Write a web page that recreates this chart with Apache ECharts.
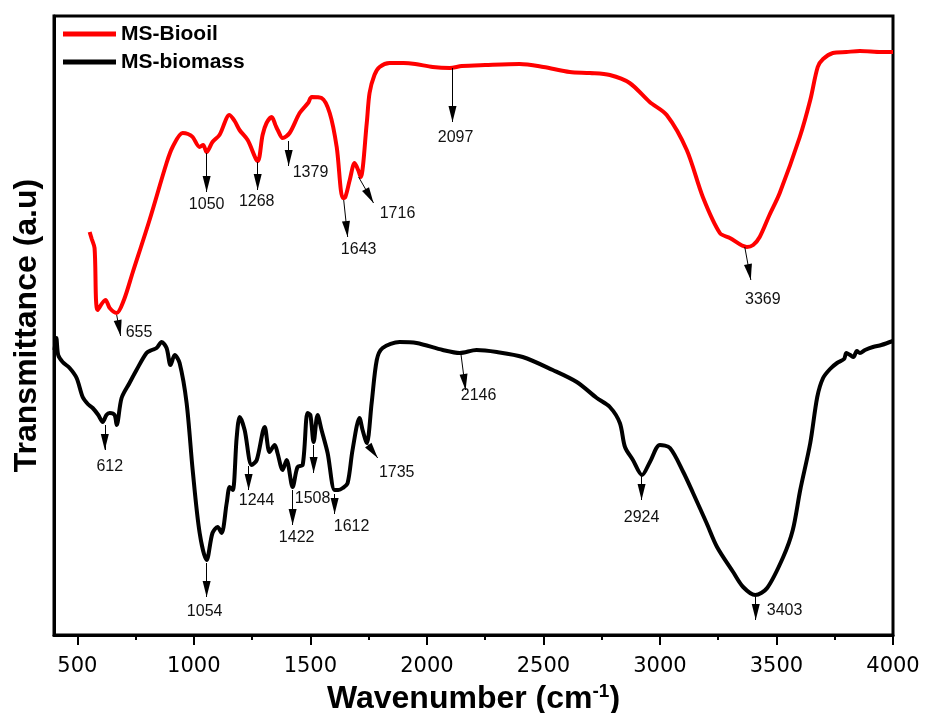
<!DOCTYPE html>
<html><head><meta charset="utf-8">
<script src="https://cdn.jsdelivr.net/npm/echarts@6/dist/echarts.min.js"></script>
<style>html,body{margin:0;padding:0;background:#fff}#c{width:925px;height:713px}</style>
</head><body><div id="c"></div>
<script>
// ---- data (wavenumber cm-1, transmittance a.u.) ----
const bioOilWavenumber = [553,562,574,587,621,639,669,700,737,810,883,909,952,975,995,1025,1040,1055,1080,1110,1153,1175,1196,1231,1274,1295,1312,1334,1350,1360,1381,1411,1454,1490,1506,1548,1583,1613,1639,1650,1669,1690,1705,1716,1742,1754,1775,1797,1840,1900,1950,2025,2098,2150,2250,2398,2500,2613,2700,2785,2870,2956,3029,3115,3184,3257,3300,3373,3400,3428,3470,3514,3600,3645,3677,3700,3742,3800,3858,3950,4000];
const bioOilTransmittance = [403,396,387,325,335,327,322,335,362,415,472,488,502,501,498,488,490,483,493,500,520,514,505,495,474,500,512,518,510,505,497,502,522,532,538,537,522,488,437,438,455,472,465,458,512,542,560,568,572,572,571,568,567,569,570,571,568,563,562,560,552,533,520,485,438,402,397,388,390,398,420,442,498,535,568,576,582,583,584,583,583];

const biomassWavenumber = [402,410,418,437,467,497,523,545,566,590,609,625,639,660,669,690,724,754,797,820,840,862,883,900,918,939,969,995,1025,1055,1080,1102,1119,1141,1154,1167,1184,1197,1218,1248,1270,1304,1325,1347,1359,1381,1398,1424,1445,1467,1488,1500,1514,1531,1548,1574,1604,1620,1639,1660,1681,1711,1724,1742,1763,1785,1810,1883,1956,2068,2141,2213,2300,2411,2540,2643,2729,2785,2828,2850,2884,2923,2957,3000,3043,3100,3142,3200,3245,3314,3357,3409,3460,3529,3570,3602,3645,3675,3700,3730,3760,3790,3800,3816,3830,3845,3858,3880,3914,3950,4000];
const biomassTransmittance = [285,297,280,273,267,257,238,231,227,220,213,220,222,220,210,237,252,265,282,285,287,293,287,270,280,272,232,165,102,75,102,108,102,132,148,145,198,218,205,170,175,208,183,190,182,165,175,148,168,170,222,220,193,220,205,182,145,145,147,152,185,217,205,192,232,275,287,293,292,285,282,285,283,278,265,253,237,228,212,188,175,160,173,190,187,163,142,112,88,63,48,40,47,78,105,145,192,238,257,266,272,276,282,280,278,284,282,285,288,290,294];

// peak annotations: [label, arrow start wn, start T, arrow tip wn, tip T]
const bioOilPeaks = [
  ['655', 669, 320, 686, 299],
  ['1050', 1055, 482, 1055, 443],
  ['1268', 1274, 473, 1274, 445],
  ['1379', 1407, 494, 1407, 469],
  ['1643', 1643, 435, 1660, 398],
  ['1716', 1707, 458, 1771, 432],
  ['2097', 2110, 567, 2110, 513],
  ['3369', 3364, 388, 3390, 355]
];
const biomassPeaks = [
  ['612', 618, 210, 618, 185],
  ['1054', 1055, 72, 1055, 38],
  ['1244', 1235, 169, 1235, 145],
  ['1422', 1424, 145, 1424, 110],
  ['1508', 1514, 190, 1514, 162],
  ['1612', 1604, 141, 1604, 121],
  ['1735', 1742, 192, 1789, 177],
  ['2146', 2145, 283, 2166, 245],
  ['2924', 2921, 160, 2921, 135],
  ['3403', 3411, 38, 3411, 15]
];
const majorTicks = [500,1000,1500,2000,2500,3000,3500,4000];
const minorTicks = [750,1250,1750,2250,2750,3250,3750];
const seriesNames = ['MS-Biooil','MS-biomass'];

// ---- label placement (style, pixel offsets from arrow tip) ----
const bioOilLabelPos = [[5,-3,'left'],[0,13,'center'],[-1,12,'center'],[4,7,'left'],[11,13,'center'],[24,11,'center'],[3,16,'center'],[12,20,'center']];
const biomassLabelPos = [[5,17,'center'],[-2,15,'center'],[8,11,'center'],[4,13,'center'],[-1,26,'center'],[17,13,'center'],[19,15,'center'],[13,6,'center'],[0,18,'center'],[11,-9,'left']];

function zip(a,b){return a.map((v,i)=>[v,b[i]]);}
function arrows(peaks){
  return {
    silent:true, animation:false,
    symbol:['none','triangle'], symbolSize:[8,16], symbolOffset:[[0,0],[0,8]],
    lineStyle:{color:'#000',width:1,type:'solid'},
    itemStyle:{color:'#000'},
    label:{show:false},
    emphasis:{disabled:true},
    data: peaks.map(p=>[{coord:[p[1],p[2]]},{coord:[p[3],p[4]]}])
  };
}
function labels(peaks,pos){
  return {
    silent:true, animation:false,
    symbol:'circle', symbolSize:0,
    data: peaks.map((p,i)=>({
      coord:[p[3],p[4]],
      label:{show:true, formatter:p[0], position:[pos[i][0],pos[i][1]], align:pos[i][2], verticalAlign:'middle',
             color:'#111', fontSize:16, fontFamily:'Liberation Sans, Arial, sans-serif'}
    }))
  };
}

const chart = echarts.init(document.getElementById('c'), null, {renderer:'canvas'});
chart.setOption({
  animation:false,
  backgroundColor:'#fff',
  legend:{
    data:seriesNames, orient:'vertical', left:63, top:23, padding:0, itemWidth:53, itemHeight:5, itemGap:6,
    icon:'rect',
    textStyle:{fontSize:21, fontWeight:'bold', fontFamily:'Liberation Sans, Arial, sans-serif', color:'#000', lineHeight:22}
  },
  grid:{left:54, right:32, top:16, bottom:78, show:true, borderColor:'#000', borderWidth:3, backgroundColor:'transparent',
        outerBoundsMode:'none', containLabel:false},
  xAxis:[{
    type:'value', min:400, max:4000,
    axisLine:{show:true, lineStyle:{color:'#000', width:3}},
    axisTick:{show:true, customValues:majorTicks, length:10, lineStyle:{color:'#000', width:2}},
    axisLabel:{show:true, customValues:majorTicks, margin:21, fontSize:21, color:'#000', fontFamily:'DejaVu Sans, sans-serif',
               formatter:v=>String(v)},
    splitLine:{show:false},
    name:'{a|Wavenumber (cm}{s|-1}{a|)}', nameLocation:'middle', nameGap:46,
    nameTextStyle:{rich:{
      a:{fontSize:32, fontWeight:'bold', fontFamily:'Liberation Sans, Arial, sans-serif', color:'#000'},
      s:{fontSize:19, fontWeight:'bold', fontFamily:'Liberation Sans, Arial, sans-serif', color:'#000', verticalAlign:'top', padding:[0,0,15,0]}
    }}
  },{
    type:'value', min:400, max:4000, position:'bottom',
    axisLine:{show:false},
    axisTick:{show:true, customValues:minorTicks, length:5, lineStyle:{color:'#000', width:2}},
    axisLabel:{show:false}, splitLine:{show:false}
  }],
  yAxis:{
    type:'value', min:0, max:619,
    axisLine:{show:true, lineStyle:{color:'#000', width:3}},
    axisTick:{show:false}, axisLabel:{show:false}, splitLine:{show:false},
    name:'Transmittance (a.u)', nameLocation:'middle', nameGap:11,
    nameTextStyle:{fontSize:32, fontWeight:'bold', fontFamily:'Liberation Sans, Arial, sans-serif', color:'#000'}
  },
  series:[{
    name:seriesNames[0], type:'line', data:zip(bioOilWavenumber,bioOilTransmittance),
    showSymbol:false, smooth:0.3, color:'#ff0000',
    lineStyle:{width:4, color:'#ff0000'},
    markLine:arrows(bioOilPeaks), markPoint:labels(bioOilPeaks,bioOilLabelPos), z:2
  },{
    name:seriesNames[1], type:'line', data:zip(biomassWavenumber,biomassTransmittance),
    showSymbol:false, smooth:0.3, color:'#000',
    lineStyle:{width:4, color:'#000'},
    markLine:arrows(biomassPeaks), markPoint:labels(biomassPeaks,biomassLabelPos), z:2
  }]
});
</script></body></html>
